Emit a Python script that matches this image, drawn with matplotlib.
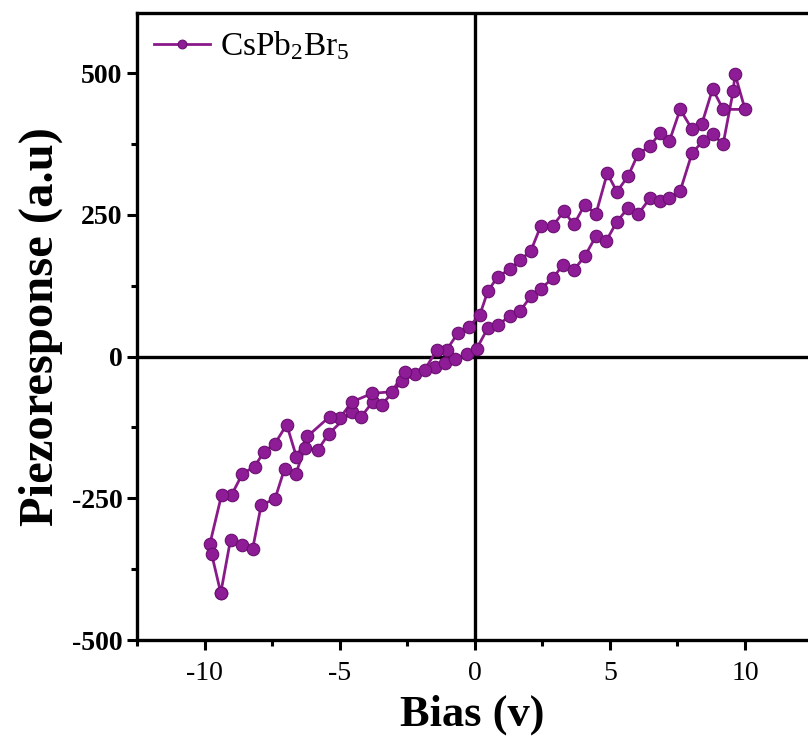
import matplotlib
matplotlib.use('Agg')
import matplotlib.pyplot as plt
from matplotlib.ticker import MultipleLocator

plt.rcParams['font.family'] = ['Liberation Serif', 'DejaVu Serif']
plt.rcParams['mathtext.fontset'] = 'custom'
plt.rcParams['mathtext.rm'] = 'Liberation Serif'
plt.rcParams['mathtext.it'] = 'Liberation Serif:italic'
plt.rcParams['mathtext.bf'] = 'Liberation Serif:bold'
plt.rcParams['axes.unicode_minus'] = False

# forward sweep (lower branch, increasing bias)
fwd_bias = [-9.4, -9.04, -8.63, -8.22, -7.9, -7.4, -7.04, -6.63, -6.3, -5.8,
            -5.4, -4.55, -4.2, -3.78, -3.44, -2.7, -2.2, -1.48, -1.1, -0.74,
            -0.3, 0.07, 0.48, 0.85, 1.3, 1.67, 2.07, 2.44, 2.89, 3.26,
            3.67, 4.07, 4.48, 4.85, 5.26, 5.67, 6.04, 6.48, 6.85, 7.2,
            7.6, 8.04, 8.44, 8.8, 9.19, 9.56, 9.63, 10.0]
fwd_resp = [-417, -323, -332, -339, -261, -252, -198, -208, -162, -164,
            -136, -97, -106, -80, -85, -44, -30, -18, -12, -5,
            5, 14, 50, 56, 71, 80, 106, 120, 138, 162,
            153, 177, 212, 203, 238, 262, 251, 279, 274, 279,
            292, 359, 380, 392, 375, 468, 498, 436]

# reverse sweep (upper branch, decreasing bias)
rev_bias = [9.19, 8.8, 8.4, 8.04, 7.6, 7.2, 6.85, 6.48, 6.04, 5.67,
            5.26, 4.9, 4.48, 4.07, 3.67, 3.3, 2.89, 2.44, 2.07, 1.67,
            1.3, 0.85, 0.48, 0.19, -0.22, -0.63, -1.04, -1.4, -1.85, -2.6,
            -3.07, -3.8, -4.55, -5.0, -5.37, -6.2, -6.6, -6.96, -7.4, -7.8,
            -8.15, -8.6, -9.0, -9.37, -9.8, -9.74]
rev_resp = [436, 472, 410, 401, 436, 380, 394, 371, 357, 318,
            291, 323, 251, 268, 233, 256, 231, 230, 186, 170,
            154, 141, 115, 74, 52, 41, 12, 12, -23, -27,
            -62, -65, -80, -109, -106, -141, -177, -120, -154, -168,
            -194, -207, -244, -244, -330, -348]

bias = fwd_bias + rev_bias + fwd_bias[:1]
resp = fwd_resp + rev_resp + fwd_resp[:1]

fig = plt.figure(figsize=(8.08, 7.47), dpi=100)
ax = fig.add_axes([137 / 808, 107 / 747, 1 - 137 / 808, (640 - 13) / 747])

ax.axhline(0, color='black', lw=2.4, zorder=1)
ax.axvline(0, color='black', lw=2.4, zorder=1)

line, = ax.plot(bias, resp, '-o', color='#8a1a8a', lw=2.0, markersize=9,
                markerfacecolor='#8e1c96', markeredgecolor='#6a0f70',
                markeredgewidth=0.8, label=r'CsPb$_2$Br$_5$', zorder=3)

ax.set_xlim(-12.5, 12.33)
ax.set_ylim(-500, 606)

ax.xaxis.set_major_locator(MultipleLocator(5))
ax.xaxis.set_minor_locator(MultipleLocator(2.5))
ax.yaxis.set_major_locator(MultipleLocator(250))
ax.yaxis.set_minor_locator(MultipleLocator(125))

for s in ax.spines.values():
    s.set_linewidth(2.4)
ax.spines['right'].set_visible(False)

ax.tick_params(which='major', direction='out', length=7, width=2.2, labelsize=20)
ax.tick_params(axis='x', which='major', pad=8)
ax.tick_params(which='minor', direction='out', length=4, width=2.2)
for lbl in ax.get_yticklabels():
    lbl.set_fontweight('bold')

ax.set_xlabel('Bias (v)', fontsize=32, fontweight='bold', labelpad=6)
ax.set_ylabel('Piezoresponse (a.u)', fontsize=35, fontweight='bold', labelpad=6)

leg = ax.legend(loc='upper left', frameon=False, fontsize=24, handlelength=1.7,
                borderaxespad=0.0, handletextpad=0.3, borderpad=0.5,
                markerscale=0.7)

fig.savefig('out.png', dpi=100)
